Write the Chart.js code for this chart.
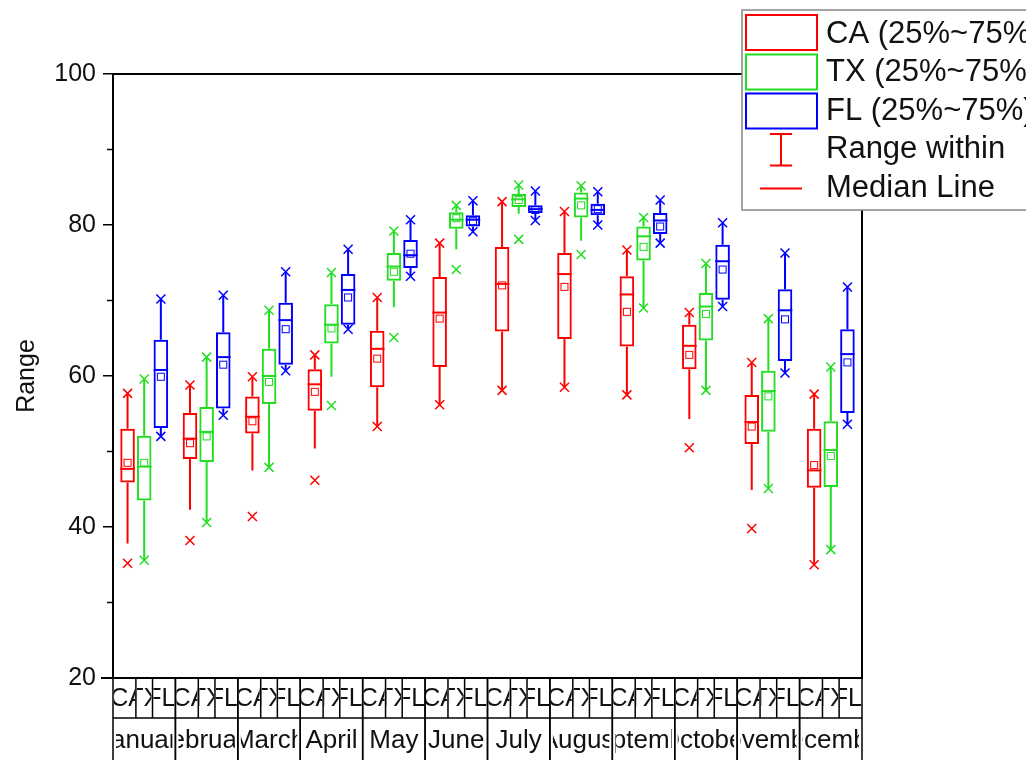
<!DOCTYPE html>
<html>
<head>
<meta charset="utf-8">
<script src="https://cdn.jsdelivr.net/npm/chart.js@4.4.1/dist/chart.umd.min.js"></script>
<style>
html, body { margin: 0; padding: 0; background: #fff; }
</style>
</head>
<body>
<canvas id="chart" width="1026" height="760"></canvas>
<script>
const months = ['January', 'February', 'March', 'April', 'May', 'June', 'July', 'August', 'September', 'October', 'November', 'December'];
const states = ['CA', 'TX', 'FL'];
const legendLabels = ['CA (25%~75%)', 'TX (25%~75%)', 'FL (25%~75%)', 'Range within', 'Median Line'];
const colors = ['#ff0000', '#22dd22', '#0000ff'];

// CA
const caQ1   = [45.9, 49.0, 52.4, 55.4, 58.5, 61.2, 65.9, 64.9, 63.9, 60.9, 51.0, 45.2];
const caMed  = [47.7, 51.7, 54.6, 58.9, 63.6, 68.4, 72.2, 73.5, 70.8, 64.0, 53.9, 47.5];
const caQ3   = [53.0, 55.1, 57.3, 60.9, 66.0, 73.1, 77.1, 76.3, 73.2, 66.8, 57.5, 53.0];
const caMean = [48.5, 51.1, 54.0, 57.9, 62.3, 67.6, 72.0, 71.8, 68.5, 62.8, 53.3, 48.2];
const caLo   = [37.8, 42.3, 47.5, 50.4, 53.3, 56.2, 58.1, 58.5, 57.5, 54.3, 44.9, 35.0];
const caHi   = [57.7, 58.8, 59.9, 62.8, 70.4, 77.6, 83.1, 81.8, 76.7, 68.4, 61.8, 57.6];
const caMin  = [35.2, 38.2, 41.4, 46.2, 53.3, 56.2, 58.1, 58.5, 57.5, 50.5, 39.8, 35.0];
const caMax  = [57.7, 58.8, 59.9, 62.8, 70.4, 77.6, 83.1, 81.8, 76.7, 68.4, 61.8, 57.6];

// TX
const txQ1   = [43.5, 48.6, 56.3, 64.3, 72.6, 79.5, 82.4, 81.0, 75.3, 64.7, 52.6, 45.3];
const txMed  = [48.0, 52.6, 60.0, 66.8, 74.5, 80.7, 83.4, 83.5, 78.5, 69.2, 58.0, 50.2];
const txQ3   = [52.1, 55.9, 63.6, 69.5, 76.3, 81.7, 84.1, 84.3, 79.8, 71.0, 60.7, 54.0];
const txMean = [48.5, 52.0, 59.2, 66.3, 73.8, 80.9, 83.3, 82.6, 77.1, 68.2, 57.3, 49.4];
const txLo   = [35.6, 40.6, 47.9, 59.9, 69.1, 76.8, 81.5, 77.9, 69.0, 58.1, 45.1, 37.0];
const txHi   = [59.6, 62.5, 68.7, 73.7, 79.2, 82.6, 85.3, 85.2, 81.0, 74.9, 67.6, 61.2];
const txMin  = [35.6, 40.6, 47.9, 56.1, 65.1, 74.1, 78.1, 76.1, 69.0, 58.1, 45.1, 37.0];
const txMax  = [59.6, 62.5, 68.7, 73.7, 79.2, 82.6, 85.3, 85.2, 81.0, 74.9, 67.6, 61.2];

// FL
const flQ1   = [53.1, 55.7, 61.5, 66.8, 74.3, 79.8, 81.6, 81.3, 78.8, 70.1, 62.0, 55.1];
const flMed  = [60.8, 62.5, 67.4, 71.4, 76.0, 80.7, 82.1, 82.0, 80.6, 75.2, 68.7, 62.9];
const flQ3   = [64.8, 65.8, 69.7, 73.5, 78.0, 81.3, 82.6, 82.8, 81.6, 77.4, 71.5, 66.2];
const flMean = [59.9, 61.5, 66.2, 70.4, 76.2, 80.5, 82.0, 82.1, 79.8, 74.1, 67.5, 61.8];
const flLo   = [52.0, 54.8, 60.7, 66.2, 73.2, 79.1, 80.6, 80.0, 77.6, 69.2, 60.4, 53.6];
const flHi   = [70.2, 70.7, 73.8, 76.8, 80.7, 83.2, 84.5, 84.4, 83.3, 80.3, 76.3, 71.8];
const flMin  = [52.0, 54.8, 60.7, 66.2, 73.2, 79.1, 80.6, 80.0, 77.6, 69.2, 60.4, 53.6];
const flMax  = [70.2, 70.7, 73.8, 76.8, 80.7, 83.2, 84.5, 84.4, 83.3, 80.3, 76.3, 71.8];

const yTicks = [20, 40, 60, 80, 100];
const yMinorTicks = [30, 50, 70, 90];

const stats = [
    { q1: caQ1, med: caMed, q3: caQ3, mean: caMean, lo: caLo, hi: caHi, min: caMin, max: caMax },
    { q1: txQ1, med: txMed, q3: txQ3, mean: txMean, lo: txLo, hi: txHi, min: txMin, max: txMax },
    { q1: flQ1, med: flMed, q3: flQ3, mean: flMean, lo: flLo, hi: flHi, min: flMin, max: flMax }
];

const FONT = "'Liberation Sans', Arial, sans-serif";

function drawCross(ctx, x, y, r) {
    ctx.beginPath();
    ctx.moveTo(x - r, y - r); ctx.lineTo(x + r, y + r);
    ctx.moveTo(x + r, y - r); ctx.lineTo(x - r, y + r);
    ctx.stroke();
}

// whiskers, medians, means and extreme marks
const boxExtras = {
    id: 'boxExtras',
    afterDatasetsDraw(chart) {
        const ctx = chart.ctx;
        const y = chart.scales.y;
        ctx.save();
        chart.data.datasets.forEach((ds, di) => {
            const meta = chart.getDatasetMeta(di);
            const s = stats[di];
            ctx.strokeStyle = colors[di];
            meta.data.forEach((bar, i) => {
                const x = bar.x, hw = bar.width / 2;
                ctx.lineWidth = 2;
                ctx.beginPath();
                ctx.moveTo(x, y.getPixelForValue(s.q3[i]));
                ctx.lineTo(x, y.getPixelForValue(s.hi[i]));
                ctx.moveTo(x, y.getPixelForValue(s.q1[i]));
                ctx.lineTo(x, y.getPixelForValue(s.lo[i]));
                ctx.stroke();
                // median
                const ym = y.getPixelForValue(s.med[i]);
                ctx.beginPath();
                ctx.moveTo(x - hw, ym); ctx.lineTo(x + hw, ym);
                ctx.stroke();
                // mean
                ctx.lineWidth = 1;
                const ya = y.getPixelForValue(s.mean[i]);
                ctx.strokeRect(x - 3.5, ya - 3.5, 7, 7);
                // extremes
                ctx.lineWidth = 1.5;
                drawCross(ctx, x, y.getPixelForValue(s.min[i]), 4.5);
                drawCross(ctx, x, y.getPixelForValue(s.max[i]), 4.5);
            });
        });
        ctx.restore();
    },
    afterDraw(chart) {
        const ctx = chart.ctx;
        const area = chart.chartArea;
        const xs = chart.scales.x, y = chart.scales.y;
        ctx.save();

        // minor ticks
        ctx.strokeStyle = '#000';
        ctx.lineWidth = 1.5;
        yMinorTicks.forEach(v => {
            const py = y.getPixelForValue(v);
            ctx.beginPath(); ctx.moveTo(area.left - 6, py); ctx.lineTo(area.left, py); ctx.stroke();
        });

        // frame
        ctx.lineWidth = 2;
        ctx.beginPath();
        ctx.moveTo(area.left, area.top); ctx.lineTo(area.right, area.top);
        ctx.lineTo(area.right, area.bottom); ctx.lineTo(area.left - 12, area.bottom);
        ctx.stroke();

        // label table under the axis
        const row1 = area.bottom, row2 = area.bottom + 40, row3 = chart.height;
        const catW = (area.right - area.left) / months.length;
        ctx.lineWidth = 1.5;
        ctx.beginPath();
        ctx.moveTo(area.left, row2); ctx.lineTo(area.right, row2);
        ctx.stroke();
        ctx.fillStyle = '#111';
        ctx.textAlign = 'center';
        ctx.textBaseline = 'middle';
        months.forEach((m, i) => {
            const cx = xs.getPixelForValue(i);
            const l = cx - catW / 2, r = cx + catW / 2;
            const bx = [0, 1, 2].map(d => chart.getDatasetMeta(d).data[i].x);
            const bounds = [l, (bx[0] + bx[1]) / 2, (bx[1] + bx[2]) / 2, r];
            ctx.beginPath();
            ctx.moveTo(l, row1); ctx.lineTo(l, row3);
            ctx.moveTo(r, row1); ctx.lineTo(r, row3);
            ctx.moveTo(bounds[1], row1); ctx.lineTo(bounds[1], row2);
            ctx.moveTo(bounds[2], row1); ctx.lineTo(bounds[2], row2);
            ctx.stroke();
            ctx.font = '25px ' + FONT;
            states.forEach((st, k) => {
                ctx.save();
                ctx.beginPath();
                ctx.rect(bounds[k] + 1, row1, bounds[k + 1] - bounds[k] - 2, row2 - row1);
                ctx.clip();
                ctx.fillText(st, bx[k], (row1 + row2) / 2 + 1);
                ctx.restore();
            });
            ctx.font = '26px ' + FONT;
            ctx.save();
            ctx.beginPath();
            ctx.rect(l + 3, row2, catW - 6, row3 - row2);
            ctx.clip();
            ctx.fillText(m, cx, (row2 + row3) / 2 + 2);
            ctx.restore();
        });

        // legend
        ctx.fillStyle = '#fff';
        ctx.fillRect(742, 10, 300, 200);
        ctx.strokeStyle = '#888';
        ctx.lineWidth = 1.5;
        ctx.strokeRect(742, 10, 300, 200);
        const swTop = [15, 54.5, 93.5];
        ctx.lineWidth = 2;
        swTop.forEach((t, k) => {
            ctx.strokeStyle = colors[k];
            ctx.strokeRect(746, t, 71, 35);
        });
        ctx.strokeStyle = colors[0];
        ctx.beginPath();
        ctx.moveTo(770, 134); ctx.lineTo(792, 134);
        ctx.moveTo(781, 134); ctx.lineTo(781, 165.5);
        ctx.moveTo(770, 165.5); ctx.lineTo(792, 165.5);
        ctx.moveTo(760, 188.5); ctx.lineTo(802, 188.5);
        ctx.stroke();
        ctx.fillStyle = '#111';
        ctx.textAlign = 'left';
        ctx.font = '31px ' + FONT;
        const rowY = [34, 72, 111, 149, 188];
        legendLabels.forEach((t, k) => ctx.fillText(t, 826, rowY[k]));

        ctx.restore();
    }
};

new Chart(document.getElementById('chart'), {
    type: 'bar',
    data: {
        labels: months,
        datasets: states.map((st, k) => ({
            label: legendLabels[k],
            data: stats[k].q1.map((v, i) => [v, stats[k].q3[i]]),
            backgroundColor: 'rgba(0,0,0,0)',
            borderColor: colors[k],
            borderWidth: 2,
            borderSkipped: false,
            categoryPercentage: 0.8,
            barPercentage: 0.875
        }))
    },
    options: {
        responsive: false,
        animation: false,
        layout: { padding: { top: 74, right: 164, bottom: 82, left: 0 } },
        plugins: { legend: { display: false }, tooltip: { enabled: false } },
        scales: {
            x: { display: false, offset: true },
            y: {
                min: 20, max: 100,
                afterBuildTicks(scale) { scale.ticks = yTicks.map(v => ({ value: v })); },
                ticks: { font: { family: FONT, size: 25 }, color: '#111', padding: 7 },
                grid: { drawOnChartArea: false, tickLength: 10, color: '#000', lineWidth: 1.5 },
                border: { color: '#000', width: 2 },
                title: { display: true, text: 'Range', color: '#111', font: { family: FONT, size: 25 }, padding: { top: 12, bottom: 0 } },
                afterFit(scale) { scale.width = 113; }
            }
        }
    },
    plugins: [boxExtras]
});
</script>
</body>
</html>
